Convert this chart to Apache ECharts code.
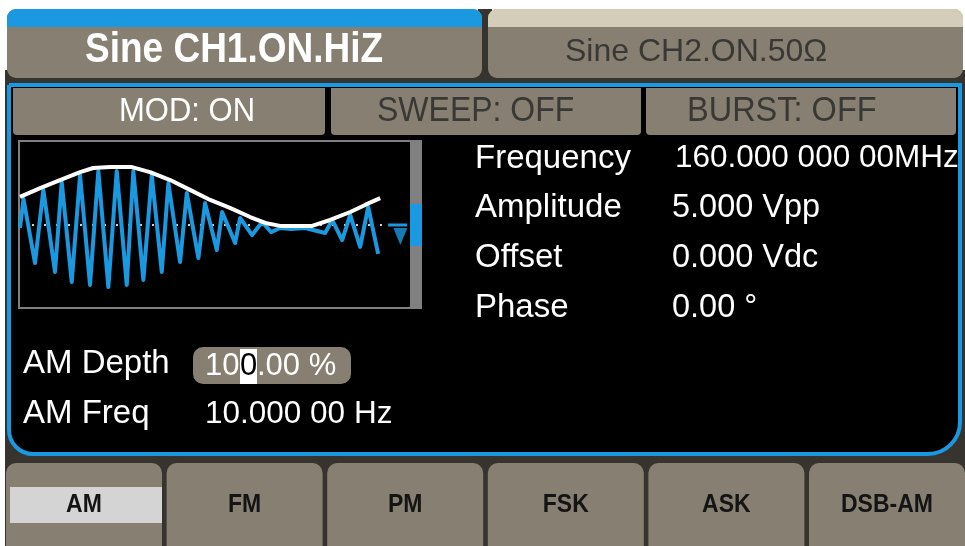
<!DOCTYPE html>
<html>
<head>
<meta charset="utf-8">
<script src="https://cdn.jsdelivr.net/npm/echarts@6/dist/echarts.min.js"></script>
<style>
html,body{margin:0;padding:0;background:#ffffff;}
#chart{width:965px;height:546px;}
</style>
</head>
<body>
<div id="chart"></div>
<script>
// ---------- data ----------
const channelTabs = ['Sine CH1.ON.HiZ', 'Sine CH2.ON.50Ω'];
const modeLabels = ['MOD: ON', 'SWEEP: OFF', 'BURST: OFF'];
const paramNames = ['Frequency', 'Amplitude', 'Offset', 'Phase'];
const paramValues = ['160.000 000 00MHz', '5.000 Vpp', '0.000 Vdc', '0.00 °'];
const amNames = ['AM Depth', 'AM Freq'];
const amDepthParts = ['10', '0', '.00 %'];   // cursor sits on the third digit
const amFreqValue = '10.000 00 Hz';
const softKeys = ['AM', 'FM', 'PM', 'FSK', 'ASK', 'DSB-AM'];

// modulated carrier (time in ms, level in V)
const carrierT = [0.0, 0.97, 4.17, 6.47, 9.72, 11.58, 14.36, 16.67, 19.44, 21.75,
  24.53, 26.86, 29.64, 31.47, 34.25, 36.58, 39.36, 41.19, 44.44, 46.31,
  49.53, 51.39, 54.64, 56.11, 59.72, 61.11, 64.44, 67.22, 69.72, 72.22,
  75.28, 79.17, 84.72, 86.67, 89.44, 91.67, 94.44, 96.67, 99.44];
const carrierV = [-0.13, 1.14, -1.67, 1.54, -2.06, 1.89, -2.50, 2.19, -2.63, 2.37,
  -2.72, 2.37, -2.63, 2.37, -2.41, 2.19, -2.06, 1.84, -1.62, 1.40,
  -1.45, 0.96, -1.10, 0.57, -0.79, 0.31, -0.44, 0.13, -0.31, -0.13,
  -0.18, -0.13, -0.35, 0.22, -0.66, 0.44, -0.96, 0.79, -1.27];

// modulation envelope
const envelopeT = [0, 5.6, 11.1, 16.7, 20.3, 25, 31.1, 36.1, 41.7, 47.2,
  52.8, 58.3, 63.9, 68.1, 72.2, 81.1, 86.1, 91.7, 95.8, 100];
const envelopeV = [1.23, 1.62, 1.97, 2.32, 2.50, 2.54, 2.54, 2.32, 1.97, 1.54,
  1.10, 0.75, 0.35, 0.09, -0.04, -0.04, 0.22, 0.57, 0.88, 1.18];

const zeroLineT = [0, 102];
const levelMarkT = [102.2, 107.5];
const levelMarkerPoint = [105.6, -0.5];

// ---------- styling ----------
const FONT = "'Liberation Sans', Arial, sans-serif";
const DARK = '#37332e';
const GRAY = '#878072';
const BLUE = '#1b99e0';
const BEIGE = '#d4ceb8';
const DARKTEXT = '#3a3835';

function txt(text, x, y, size, color, weight, align, sy) {
  return {
    type: 'text', z: 10, silent: true,
    x: x, y: y, scaleY: sy || 1,
    style: {
      text: text, x: 0, y: 0, fill: color,
      font: (weight || 'normal') + ' ' + size + 'px ' + FONT,
      textAlign: align || 'left', textVerticalAlign: 'middle',
      align: align || 'left', verticalAlign: 'middle'
    }
  };
}
function rect(x, y, w, h, fill, r, stroke, lw, z) {
  const e = { type: 'rect', z: z || 0, silent: true,
    shape: { x: x, y: y, width: w, height: h, r: r || 0 },
    style: { fill: fill } };
  if (stroke) { e.style.stroke = stroke; e.style.lineWidth = lw || 1; }
  return e;
}

const g = [];
// background
g.push(rect(5, 70, 960, 476, DARK));
g.push(rect(478, 9, 14, 70, DARK));
// channel tabs
g.push(rect(7, 9, 475, 69, GRAY, 9));
g.push(rect(7, 9, 475, 18, BLUE, [9, 9, 0, 0]));
g.push(rect(488, 9, 475, 69, GRAY, 9));
g.push(rect(488, 9, 475, 18, BEIGE, [9, 9, 0, 0]));
g.push(txt(channelTabs[0], 85, 50, 37, '#ffffff', 'bold', 'left', 1.13));
g.push(txt(channelTabs[1], 565, 52.5, 32, DARKTEXT, 'normal'));
// main frame
g.push(rect(9, 85, 951, 369, '#000000', [0, 0, 32, 24], BLUE, 4));
// mode bar
const modeCells = [[13, 312], [331, 310], [646, 310]];
const modeTextX = [119, 377, 687];
const modeSize = [31, 32, 32.5];
modeLabels.forEach(function (lab, i) {
  g.push(rect(modeCells[i][0], 88, modeCells[i][1], 47, GRAY, [0, 0, 4, 4], null, 0, 1));
  g.push(txt(lab, modeTextX[i], 111.5, modeSize[i], i === 0 ? '#ffffff' : DARKTEXT, 'normal', 'left', 1.1));
});
// waveform window
g.push(rect(19, 141, 402, 167, '#000000', 0, '#7f7f7f', 2, 1));
g.push(rect(410, 141, 12, 168, '#808080', 0, null, 0, 2));
g.push(rect(410, 204, 12, 42, BLUE, 0, null, 0, 3));
// parameters
const rowY = [158.5, 208, 258, 308];
paramNames.forEach(function (n, i) {
  g.push(txt(n, 475, rowY[i], 33, '#ffffff', 'normal'));
  g.push(txt(paramValues[i], i === 0 ? 675 : 672, rowY[i], i === 0 ? 31.5 : 32.5, '#ffffff', 'normal'));
});
// AM settings
g.push(txt(amNames[0], 23, 364, 33, '#ffffff', 'normal'));
g.push(txt(amNames[1], 23, 414, 33, '#ffffff', 'normal'));
g.push(rect(193, 347, 158, 37, GRAY, 10, null, 0, 2));
g.push(rect(240, 349, 17, 35, '#ffffff', 0, null, 0, 3));
g.push(txt(amDepthParts[0], 205, 366, 31, '#ffffff', 'normal'));
g.push(txt(amDepthParts[1], 248.5, 366, 31, '#000000', 'normal', 'center'));
g.push(txt(amDepthParts[2], 257, 366, 31, '#ffffff', 'normal'));
g.push(txt(amFreqValue, 205, 414, 31.5, '#ffffff', 'normal'));
// soft keys
softKeys.forEach(function (k, i) {
  const x = 6 + i * 160.6;
  g.push(rect(x, 463, 156, 83, GRAY, [10, 10, 0, 0], null, 0, 1));
  if (i === 0) g.push(rect(10, 487, 152, 36, '#d4d4d4', 0, null, 0, 2));
  g.push(txt(k, x + 78, 504.5, 23, '#141414', 'bold', 'center', 1.15));
});

function zip(a, b) { return a.map(function (v, i) { return [v, b[i]]; }); }

const chart = echarts.init(document.getElementById('chart'), null, { renderer: 'canvas' });
chart.setOption({
  animation: false,
  backgroundColor: '#ffffff',
  grid: { left: 20, top: 142, width: 389, height: 166 },
  xAxis: { type: 'value', min: 0, max: 108, show: false },
  yAxis: { type: 'value', min: -3.64, max: 3.64, show: false },
  graphic: { elements: g },
  series: [
    { type: 'line', z: 3, symbol: 'none', silent: true,
      data: zeroLineT.map(function (t) { return [t, 0]; }),
      lineStyle: { color: '#cfcfcf', width: 2, type: [2, 10] } },
    { type: 'line', z: 4, symbol: 'none', silent: true,
      data: zip(carrierT, carrierV),
      lineStyle: { color: BLUE, width: 4, join: 'round' } },
    { type: 'line', z: 5, symbol: 'none', silent: true,
      data: zip(envelopeT, envelopeV),
      lineStyle: { color: '#ffffff', width: 4 } },
    { type: 'line', z: 4, symbol: 'none', silent: true,
      data: levelMarkT.map(function (t) { return [t, 0]; }),
      lineStyle: { color: BLUE, width: 3 } },
    { type: 'scatter', z: 4, silent: true, symbol: 'triangle', symbolRotate: 180,
      symbolSize: [14, 17], itemStyle: { color: BLUE },
      data: [levelMarkerPoint] }
  ]
});
</script>
</body>
</html>
